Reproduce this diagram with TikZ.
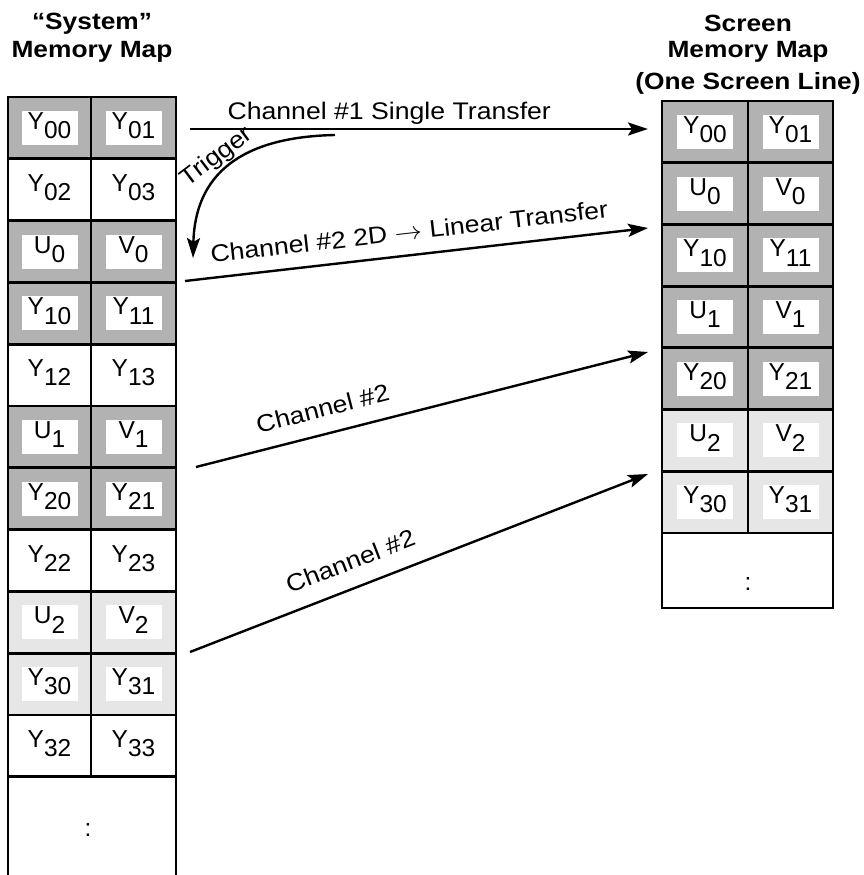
\documentclass[tikz,border=0pt]{standalone}
\usepackage{fontspec}
\setmainfont{Liberation Sans}
\usepackage{graphicx}
\usetikzlibrary{arrows.meta}
\definecolor{dkgray}{RGB}{178,178,178}
\definecolor{ltgray}{RGB}{230,230,230}
\newcommand\lowsub[1]{\raisebox{-0.38em}{#1}}
\newcommand\widetxt[1]{\scalebox{1.11}[1]{#1}}
\newcommand\widetitle[1]{\scalebox{1.12}[1]{#1}}
\begin{document}
\begin{tikzpicture}[x=1pt,y=-1pt,
  cell/.style={draw=black, line width=2.8pt, rectangle, inner sep=0pt, outer sep=0pt},
  lab/.style={fill=white, inner sep=0pt, minimum width=56pt, minimum height=34pt, text height=17.5pt, text depth=14.5pt, font=\fontsize{24.5}{28}\selectfont},
  ttl/.style={anchor=base, inner sep=0pt, font=\bfseries\fontsize{23.5}{28}\selectfont},
  arr/.style={line width=2.4pt, -{Stealth[length=20pt,width=13pt,inset=4pt]}},
  lbl/.style={sloped, anchor=south, inner sep=0pt, text depth=0pt, font=\fontsize{24}{28}\selectfont},
  dots/.style={inner sep=0pt, font=\fontsize{24.5}{28}\selectfont}]
\useasboundingbox (0,0) rectangle (863,875);

% titles
\node[ttl] (tl1) at (92,30) {\widetitle{“System”}};
\node[ttl] (tl2) at (92,57) {\widetitle{Memory Map}};
\node[ttl] (tr1) at (748,32) {\widetitle{Screen}};
\node[ttl] (tr2) at (748,57) {\widetitle{Memory Map}};
\node[ttl] (tr3) at (748,89) {\widetitle{(One Screen Line)}};

% left column
\foreach \k/\la/\sa/\lb/\sb/\fc in {0/Y/00/Y/01/dkgray,1/Y/02/Y/03/white,2/U/0/V/0/dkgray,3/Y/10/Y/11/dkgray,4/Y/12/Y/13/white,5/U/1/V/1/dkgray,6/Y/20/Y/21/dkgray,7/Y/22/Y/23/white,8/U/2/V/2/ltgray,9/Y/30/Y/31/ltgray,10/Y/32/Y/33/white}{
  \pgfmathsetmacro\yc{97+61.8*\k+30.9}
  \node[cell, minimum width=83pt, minimum height=61.8pt, fill=\fc] (L\k-a) at (49.5,\yc) {};
  \node[cell, minimum width=85pt, minimum height=61.8pt, fill=\fc] (L\k-b) at (133.5,\yc) {};
  \node[lab, fill=\fc!0!white] (L\k-at) at (L\k-a) {\la\lowsub{\sa}};
  \node[lab] (L\k-bt) at (L\k-b) {\lb\lowsub{\sb}};
}
\draw[line width=2.8pt] (L10-a.south west) -- ++(0,102);
\draw[line width=2.8pt] (L10-b.south east) -- ++(0,102);
\node[dots] (Ldots) at (88,830) {:};

% right column
\foreach \k/\la/\sa/\lb/\sb/\fc in {0/Y/00/Y/01/dkgray,1/U/0/V/0/dkgray,2/Y/10/Y/11/dkgray,3/U/1/V/1/dkgray,4/Y/20/Y/21/dkgray,5/U/2/V/2/ltgray,6/Y/30/Y/31/ltgray}{
  \pgfmathsetmacro\yc{101+61.7*\k+30.85}
  \node[cell, minimum width=86pt, minimum height=61.7pt, fill=\fc] (R\k-a) at (705,\yc) {};
  \node[cell, minimum width=85pt, minimum height=61.7pt, fill=\fc] (R\k-b) at (790.5,\yc) {};
  \node[lab] (R\k-at) at (R\k-a) {\la\lowsub{\sa}};
  \node[lab] (R\k-bt) at (R\k-b) {\lb\lowsub{\sb}};
}
\node[cell, minimum width=171pt, minimum height=75.1pt, fill=white] (R7) at (747.5,570.45) {};
\node[dots] (Rdots) at (748,584) {:};

% arrows
\coordinate (a1s) at (190,129);
\coordinate (a1e) at (648,129);
\coordinate (a2s) at (185,281);
\coordinate (a2e) at (648,228);
\coordinate (a3s) at (196,467);
\coordinate (a3e) at (648,352);
\coordinate (a4s) at (190,652);
\coordinate (a4e) at (648,474);
\coordinate (ts) at (335,135);
\coordinate (te) at (193,258);

\draw[arr] (a1s) -- node[lbl, pos=0.435, outer sep=10pt] (lab1) {\widetxt{Channel \#1 Single Transfer}} (a1e);
\draw[arr] (a2s) -- node[lbl, pos=0.49, outer sep=15pt] (lab2) {\widetxt{Channel \#2 2D $\rightarrow$ Linear Transfer}} (a2e);
\draw[arr] (a3s) -- node[lbl, pos=0.294, outer sep=17pt] (lab3) {\widetxt{Channel \#2}} (a3e);
\draw[arr] (a4s) -- node[lbl, pos=0.371, outer sep=18pt] (lab4) {\widetxt{Channel \#2}} (a4e);
\draw[arr] (ts) .. controls (240,137) and (195,175) .. (te);
\node[inner sep=0pt, rotate=37, font=\fontsize{24}{28}\selectfont] (trig) at (217,157) {\widetxt{Trigger}};
\end{tikzpicture}
\end{document}
